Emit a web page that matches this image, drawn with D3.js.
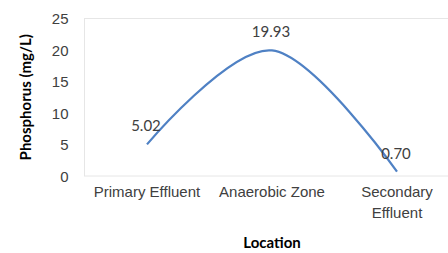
<!DOCTYPE html>
<html>
<head>
<meta charset="utf-8">
<script src="https://cdn.jsdelivr.net/npm/d3@7"></script>
<style>
  body { margin: 0; background: #fff; }
  svg { display: block; font-family: Lato, "Open Sans", sans-serif; }
  .tick text { fill: #404040; font-size: 15px; }
  .axisTitle { fill: #000; font-size: 15px; font-weight: bold; }
  .dataLabel { fill: #404040; font-size: 15px; }
</style>
</head>
<body>
<script>
'use strict';

const locations = [['Primary Effluent'], ['Anaerobic Zone'], ['Secondary', 'Effluent']];
const phosphorus = [5.02, 19.93, 0.70];
const yTicks = [0, 5, 10, 15, 20, 25];

function draw() {
    const width = 448, height = 253;
    const plot = { left: 84.5, right: 459.5, top: 18.5, bottom: 176 };

    const svg = d3.select('body').append('svg')
        .attr('width', width)
        .attr('height', height);

    const x = d3.scaleBand()
        .domain(d3.range(locations.length))
        .range([plot.left, plot.right]);
    const y = d3.scaleLinear()
        .domain([0, 25])
        .range([plot.bottom, plot.top]);

    // plot area frame
    svg.append('rect')
        .attr('x', plot.left)
        .attr('y', plot.top)
        .attr('width', plot.right - plot.left)
        .attr('height', plot.bottom - plot.top)
        .attr('fill', 'none')
        .attr('stroke', '#e6e6e6')
        .attr('stroke-width', 1);

    // y axis, labels only
    const yAxis = svg.append('g')
        .attr('transform', 'translate(' + plot.left + ',0)')
        .call(d3.axisLeft(y).tickValues(yTicks).tickSize(0).tickPadding(16));
    yAxis.select('.domain').remove();
    yAxis.selectAll('text').attr('dy', '0.35em');

    // x axis, wrapped category labels
    const xAxis = svg.append('g')
        .attr('transform', 'translate(0,' + plot.bottom + ')')
        .call(d3.axisBottom(x).tickSize(0).tickFormat(''));
    xAxis.select('.domain').remove();
    xAxis.selectAll('.tick').append('text')
        .attr('text-anchor', 'middle')
        .selectAll('tspan')
        .data((d) => locations[d])
        .join('tspan')
        .attr('x', 0)
        .attr('y', (d, i) => 21 + i * 21)
        .text((d) => d);

    // smoothed line
    const line = d3.line()
        .x((d, i) => x(i) + x.bandwidth() / 2)
        .y((d) => y(d))
        .curve(d3.curveCardinal.tension(0));
    svg.append('path')
        .datum(phosphorus)
        .attr('d', line)
        .attr('fill', 'none')
        .attr('stroke', '#4f81c4')
        .attr('stroke-width', 2.25);

    // data labels
    svg.selectAll('.dataLabel')
        .data(phosphorus)
        .join('text')
        .attr('class', 'dataLabel')
        .attr('text-anchor', 'middle')
        .attr('x', (d, i) => x(i) + x.bandwidth() / 2 - 1)
        .attr('y', (d) => y(d) - 13)
        .text((d) => d.toFixed(2));

    // axis titles
    svg.append('text')
        .attr('class', 'axisTitle')
        .attr('text-anchor', 'middle')
        .attr('transform', 'translate(31,' + ((plot.top + plot.bottom) / 2) + ') rotate(-90)')
        .text('Phosphorus (mg/L)');
    svg.append('text')
        .attr('class', 'axisTitle')
        .attr('text-anchor', 'middle')
        .attr('x', 272)
        .attr('y', 248)
        .text('Location');
}

window.onload = draw;
</script>
</body>
</html>
